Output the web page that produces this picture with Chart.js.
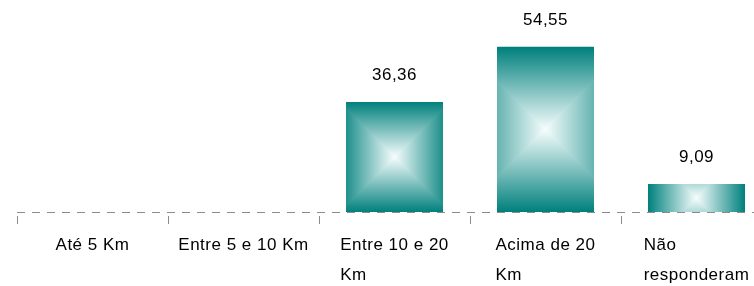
<!DOCTYPE html>
<html lang="pt">
<head>
  <meta charset="UTF-8" />
  <title>Distância</title>
  <script src="https://cdn.jsdelivr.net/npm/chart.js"></script>
  <style>
    * { box-sizing: border-box; margin: 0; padding: 0; }
    body { background: #fff; overflow: hidden; }
    #wrap { width: 754px; height: 286px; overflow: hidden; position: relative; }
    canvas { display: block; }
  </style>
</head>
<body>
  <div id="wrap">
    <canvas id="chart" width="800" height="286"></canvas>
  </div>

  <script>
    // categorias e valores (%)
    const categories = [
      ['Até 5 Km'],
      ['Entre 5 e 10 Km'],
      ['Entre 10 e 20', 'Km'],
      ['Acima de 20', 'Km'],
      ['Não', 'responderam']
    ];
    const values = [0, 0, 36.36, 54.55, 9.09];
    const yMax = 70;

    const FONT = '17px "Liberation Sans", Arial, sans-serif';
    const EDGE = [0, 128, 124];
    const CENTER = [246, 253, 253];

    // gradiente "do centro": distância em pixels, escala pela maior meia-dimensão
    function pyramid(w, h) {
      const c = document.createElement('canvas');
      c.width = w; c.height = h;
      const g = c.getContext('2d');
      const img = g.createImageData(w, h);
      const hw = w / 2, hh = h / 2, m = Math.max(hw, hh);
      for (let j = 0; j < h; j++) {
        for (let i = 0; i < w; i++) {
          const dx = Math.abs(i + 0.5 - hw);
          const dy = Math.abs(j + 0.5 - hh);
          const t = Math.min(1, Math.max(dx, dy) / m);
          const k = (j * w + i) * 4;
          img.data[k] = CENTER[0] + (EDGE[0] - CENTER[0]) * t;
          img.data[k + 1] = CENTER[1] + (EDGE[1] - CENTER[1]) * t;
          img.data[k + 2] = CENTER[2] + (EDGE[2] - CENTER[2]) * t;
          img.data[k + 3] = 255;
        }
      }
      g.putImageData(img, 0, 0);
      return c;
    }

    const decor = {
      id: 'decor',
      afterDatasetsDraw(chart) {
        const ctx = chart.ctx;
        const xs = chart.scales.x, ys = chart.scales.y;
        const meta = chart.getDatasetMeta(0);
        const base = ys.getPixelForValue(0);

        ctx.save();
        // barras com gradiente
        meta.data.forEach((el, i) => {
          if (!values[i]) return;
          const p = el.getProps(['x', 'y', 'base', 'width'], true);
          const l = Math.round(p.x - p.width / 2), r = Math.round(p.x + p.width / 2);
          const t = Math.round(p.y), b = Math.round(p.base);
          if (r - l > 0 && b - t > 0) ctx.drawImage(pyramid(r - l, b - t), l, t);
        });

        // linha de base tracejada
        ctx.strokeStyle = '#8c8c8c';
        ctx.lineWidth = 1;
        ctx.setLineDash([8, 7]);
        ctx.beginPath();
        ctx.moveTo(chart.chartArea.left, Math.round(base) + 0.5);
        ctx.lineTo(chart.chartArea.right, Math.round(base) + 0.5);
        ctx.stroke();
        ctx.setLineDash([]);

        // marcas entre categorias
        const step = xs.getPixelForValue(1) - xs.getPixelForValue(0);
        for (let i = 0; i <= categories.length; i++) {
          const x = Math.round(xs.getPixelForValue(0) - step / 2 + i * step) + 0.5;
          ctx.beginPath();
          ctx.moveTo(x, base + 4);
          ctx.lineTo(x, base + 12);
          ctx.stroke();
        }

        ctx.font = FONT;
        ctx.letterSpacing = '0.5px';
        ctx.fillStyle = '#000';
        ctx.textBaseline = 'alphabetic';

        // valores acima das barras
        ctx.textAlign = 'center';
        meta.data.forEach((el, i) => {
          if (!values[i]) return;
          const txt = values[i].toFixed(2).replace('.', ',');
          ctx.fillText(txt, el.x, el.y - 22);
        });

        // rótulos das categorias: bloco centrado, linhas alinhadas à esquerda
        ctx.textAlign = 'left';
        categories.forEach((lines, i) => {
          const cx = xs.getPixelForValue(i);
          const w = Math.max(...lines.map(s => ctx.measureText(s).width));
          const left = cx - w / 2;
          lines.forEach((s, j) => ctx.fillText(s, left, base + 38 + j * 30));
        });
        ctx.restore();
      }
    };

    new Chart(document.getElementById('chart'), {
      type: 'bar',
      data: {
        labels: categories,
        datasets: [{
          data: values,
          backgroundColor: 'rgb(0,128,124)',
          borderWidth: 0,
          barPercentage: 1,
          categoryPercentage: 0.636
        }]
      },
      options: {
        responsive: false,
        animation: false,
        layout: { padding: { left: 17, right: 28, top: 0, bottom: 74 } },
        plugins: { legend: { display: false }, tooltip: { enabled: false } },
        scales: {
          x: { display: false },
          y: { display: false, min: 0, max: yMax }
        }
      },
      plugins: [decor]
    });
  </script>
</body>
</html>
